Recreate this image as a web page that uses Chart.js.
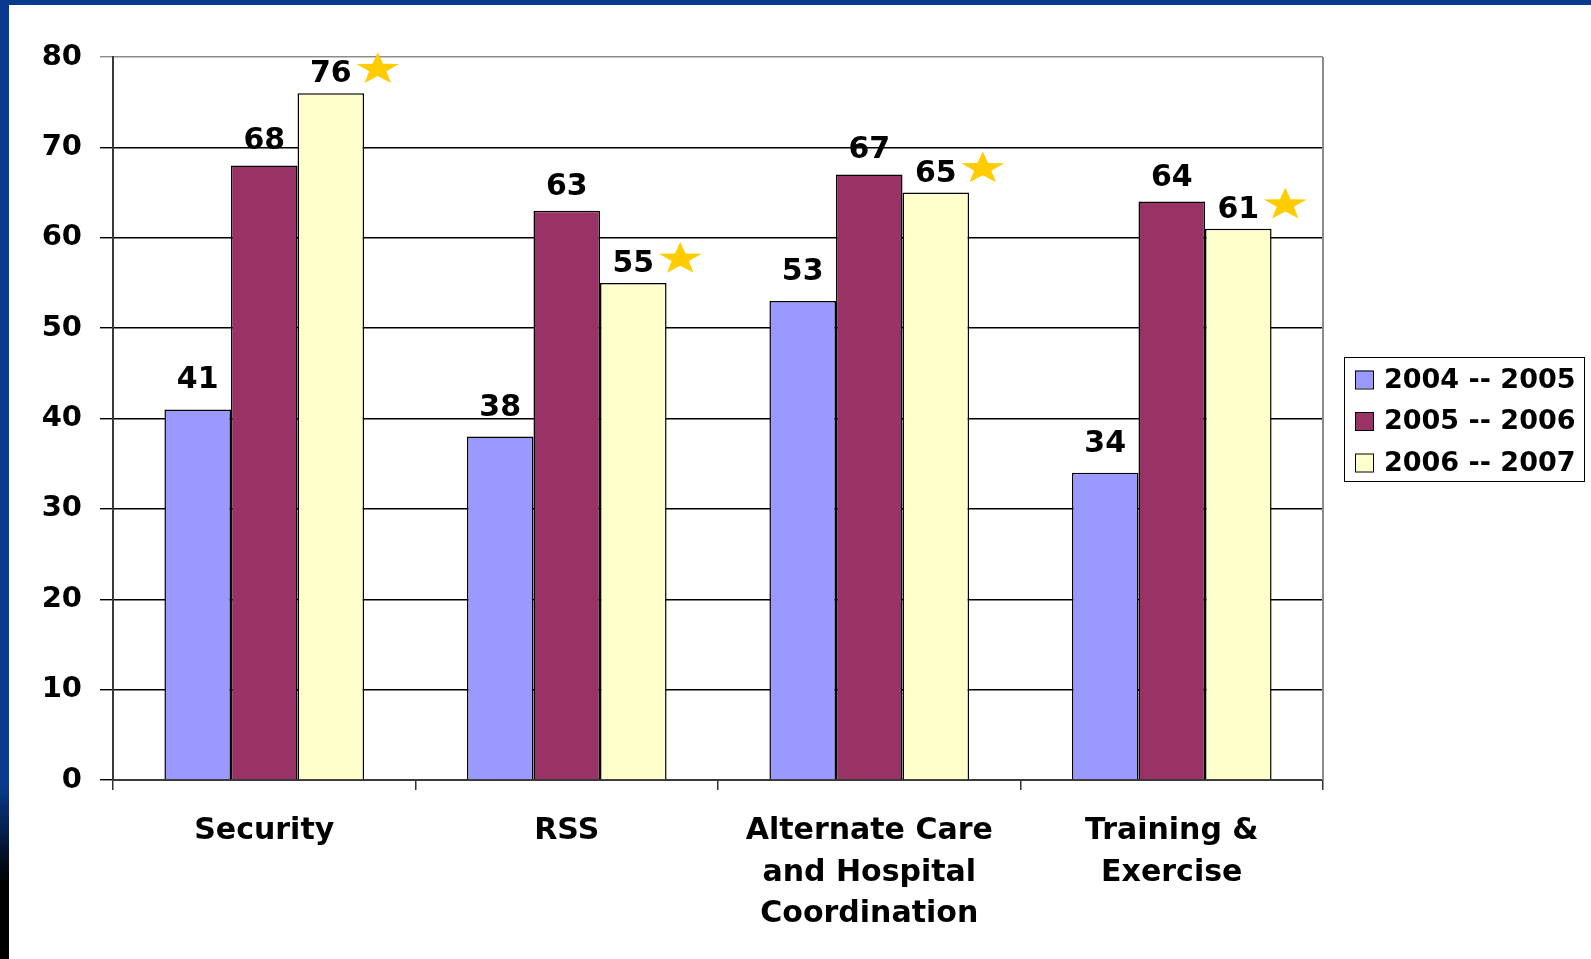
<!DOCTYPE html>
<html>
<head>
<meta charset="utf-8">
<title>Chart</title>
<script src="https://cdn.jsdelivr.net/npm/chart.js@4/dist/chart.umd.min.js"></script>
<style>
  html, body { margin: 0; padding: 0; background: #fff; overflow: hidden; }
  #wrap { position: relative; width: 1591px; height: 959px; }
</style>
</head>
<body>
<div id="wrap"><canvas id="chart"></canvas></div>
<script>
// data
const categories = ['Security', 'RSS', ['Alternate Care', 'and Hospital', 'Coordination'], ['Training &', 'Exercise']];
const seriesNames = ['2004 -- 2005', '2005 -- 2006', '2006 -- 2007'];
const values0405 = [41, 38, 53, 34];
const values0506 = [68, 63, 67, 64];
const values0607 = [76, 55, 65, 61];
const starred = [true, true, true, true]; // star next to the 2006 -- 2007 labels
const yMin = 0, yMax = 80, yStep = 10;

const colors = ['#9999FF', '#993366', '#FFFFCC'];
const FONT = '"DejaVu Sans", sans-serif';

// blue slide frame (top + left edge)
const framePlugin = {
  id: 'frame',
  beforeDraw(chart) {
    const { ctx, width, height } = chart;
    ctx.save();
    ctx.fillStyle = '#fff';
    ctx.fillRect(0, 0, width, height);
    ctx.restore();
  },
  afterDraw(chart) {
    const { ctx, width, height } = chart;
    ctx.save();
    ctx.fillStyle = '#0a3a8f';
    ctx.fillRect(0, 0, width, 5);
    const g = ctx.createLinearGradient(0, 0, 0, height);
    g.addColorStop(0, '#0a3a8f');
    g.addColorStop(0.82, '#0a3a8f');
    g.addColorStop(0.92, '#000');
    g.addColorStop(1, '#000');
    ctx.fillStyle = g;
    ctx.fillRect(0, 0, 9, height);
    ctx.restore();
  }
};

// gray right edge of the plot area
const plotBorder = {
  id: 'plotBorder',
  afterDraw(chart) {
    const { ctx, chartArea: a } = chart;
    ctx.save();
    ctx.strokeStyle = '#8c8c8c';
    ctx.lineWidth = 2;
    ctx.beginPath();
    ctx.moveTo(a.right, a.top);
    ctx.lineTo(a.right, a.bottom);
    ctx.stroke();
    ctx.restore();
  }
};

function drawStar(ctx, cx, cy, rx, ry) {
  ctx.beginPath();
  for (let i = 0; i < 10; i++) {
    const ang = -Math.PI / 2 + i * Math.PI / 5;
    const k = i % 2 === 0 ? 1 : 0.4;
    const x = cx + rx * k * Math.cos(ang), y = cy + ry * k * Math.sin(ang);
    if (i === 0) ctx.moveTo(x, y); else ctx.lineTo(x, y);
  }
  ctx.closePath();
  ctx.fill();
}

// value labels above bars + stars
const valueLabels = {
  id: 'valueLabels',
  afterDatasetsDraw(chart) {
    const { ctx } = chart;
    const gaps = [21, 16, 11];
    ctx.save();
    ctx.font = 'bold 30px ' + FONT;
    ctx.textAlign = 'center';
    ctx.textBaseline = 'alphabetic';
    chart.data.datasets.forEach((ds, di) => {
      chart.getDatasetMeta(di).data.forEach((bar, i) => {
        const y = bar.y - gaps[di];
        ctx.fillStyle = '#000';
        ctx.fillText(String(ds.data[i]), bar.x, y);
        if (di === 2 && starred[i]) {
          ctx.fillStyle = '#FFCC00';
          drawStar(ctx, bar.x + 47, y - 13, 22.5, 17);
        }
      });
    });
    ctx.restore();
  }
};

// boxed legend on the right
const boxLegend = {
  id: 'boxLegend',
  afterDraw(chart) {
    const { ctx, chartArea: a } = chart;
    const w = 240, h = 124;
    const left = a.right + 21;
    const top = Math.round((a.top + a.bottom) / 2 - h / 2);
    ctx.save();
    ctx.fillStyle = '#fff';
    ctx.fillRect(left, top, w, h);
    ctx.strokeStyle = '#000';
    ctx.lineWidth = 1;
    ctx.strokeRect(left + 0.5, top + 0.5, w, h);
    ctx.font = 'bold 27px ' + FONT;
    ctx.textBaseline = 'middle';
    ctx.textAlign = 'left';
    chart.data.datasets.forEach((ds, i) => {
      const cy = top + 22.5 + i * 41.5;
      ctx.fillStyle = ds.backgroundColor;
      ctx.fillRect(left + 11, cy - 9, 18, 18);
      ctx.strokeStyle = '#000';
      ctx.strokeRect(left + 11.5, cy - 8.5, 18, 18);
      ctx.fillStyle = '#000';
      ctx.fillText(ds.label, left + 40, cy + 1);
    });
    ctx.restore();
  }
};

const seriesValues = [values0405, values0506, values0607];

new Chart(document.getElementById('chart'), {
  type: 'bar',
  data: {
    labels: categories,
    datasets: seriesNames.map((name, i) => ({
      label: name,
      data: seriesValues[i],
      backgroundColor: colors[i],
      borderColor: '#000',
      borderWidth: 1.5,
      borderSkipped: 'bottom',
      categoryPercentage: 0.66,
      barPercentage: 1,
    })),
  },
  options: {
    responsive: true,
    maintainAspectRatio: false,
    animation: false,
    devicePixelRatio: 1,
    layout: { padding: { top: 57, right: 268, bottom: 0, left: 0 } },
    plugins: { legend: { display: false }, tooltip: { enabled: false } },
    scales: {
      x: {
        grid: { offset: true, drawOnChartArea: false, drawTicks: true, tickLength: 10, color: '#333', lineWidth: 1.5 },
        border: { color: '#3a3a3a', width: 2 },
        ticks: { color: '#000', font: { family: FONT, size: 30, weight: 'bold', lineHeight: 1.38 }, padding: 21, maxRotation: 0, autoSkip: false },
        afterFit(s) { s.height = 179; },
      },
      y: {
        min: yMin, max: yMax,
        grid: {
          color: c => (c.tick && c.tick.value === yMax ? '#8c8c8c' : '#000'),
          lineWidth: 1.4,
          tickLength: 13,
        },
        border: { color: '#3a3a3a', width: 2 },
        ticks: { stepSize: yStep, color: '#000', font: { family: FONT, size: 29, weight: 'bold' }, padding: 18 },
        afterFit(s) { s.width = 113; },
      },
    },
  },
  plugins: [framePlugin, plotBorder, valueLabels, boxLegend],
});
</script>
</body>
</html>
